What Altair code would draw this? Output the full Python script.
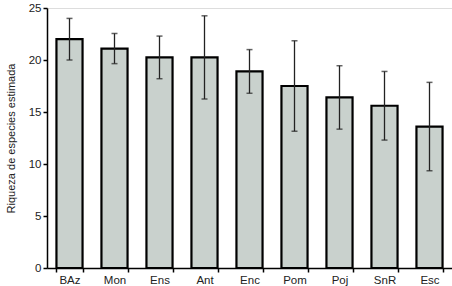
import altair as alt
import pandas as pd

sites = ["BAz", "Mon", "Ens", "Ant", "Enc", "Pom", "Poj", "SnR", "Esc"]
richness = [22.0, 21.1, 20.25, 20.25, 18.9, 17.5, 16.4, 15.6, 13.6]
err = [2.0, 1.45, 2.05, 4.0, 2.1, 4.35, 3.05, 3.3, 4.25]

df = pd.DataFrame({"site": sites, "value": richness, "err": err})
df["lo"] = df["value"] - df["err"]
df["hi"] = df["value"] + df["err"]

FONT = "Liberation Sans"
x = alt.X("site:N", sort=sites, title=None,
          scale=alt.Scale(paddingInner=0.42, paddingOuter=0.21),
          axis=alt.Axis(labelAngle=0, tickBand="extent", domainColor="black",
                        tickColor="black", tickSize=4, labelFont=FONT,
                        labelFontSize=11.5, labelColor="#222", labelPadding=2,
                        domainWidth=1.5, tickWidth=1.5))
yscale = alt.Scale(domain=[0, 25], nice=False)

base = alt.Chart(df)
bars = base.mark_bar(color="#c9d1cd", stroke="black", strokeWidth=2.2).encode(
    x=x,
    y=alt.Y("value:Q", scale=yscale, title="Riqueza de especies estimada",
            axis=alt.Axis(values=[0, 5, 10, 15, 20, 25], grid=False,
                          domainColor="black", tickColor="black", tickSize=4,
                          labelFont=FONT, labelFontSize=11.5, labelColor="#222",
                          titleFont=FONT, titleFontSize=11, titleFontWeight="normal",
                          titleColor="#222", titlePadding=12,
                          domainWidth=1.5, tickWidth=1.5)),
)
rules = base.mark_rule(color="#222", strokeWidth=1.3).encode(
    x=alt.X("site:N", sort=sites), y=alt.Y("lo:Q", scale=yscale), y2="hi:Q")
caps_lo = base.mark_tick(color="#222", size=6, thickness=1.5, orient="horizontal").encode(
    x=alt.X("site:N", sort=sites), y=alt.Y("lo:Q", scale=yscale))
caps_hi = base.mark_tick(color="#222", size=6, thickness=1.5, orient="horizontal").encode(
    x=alt.X("site:N", sort=sites), y=alt.Y("hi:Q", scale=yscale))

chart = alt.layer(bars, rules, caps_lo, caps_hi).properties(
    width=405, height=260,
    autosize=alt.AutoSizeParams(type="none"),
    padding={"left": 47, "top": 8, "right": 0, "bottom": 18},
).configure_view(stroke=None).configure(background="white")

chart.save("out.html", embed_options={"renderer": "svg", "actions": False})
